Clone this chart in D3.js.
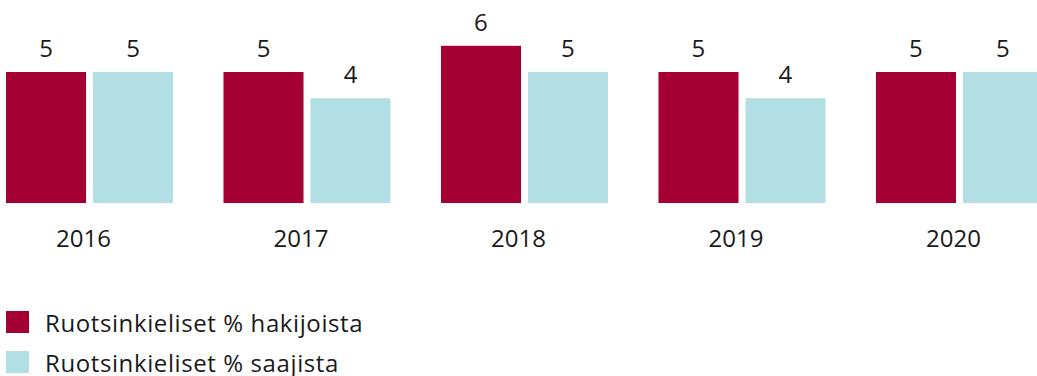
<!DOCTYPE html>
<html>
<head>
<meta charset="utf-8">
<script src="https://cdn.jsdelivr.net/npm/d3@7"></script>
<style>
  html, body { margin: 0; padding: 0; background: #fff; }
  svg { display: block; font-family: "Open Sans", sans-serif; }
</style>
</head>
<body>
<svg id="chart" width="1037" height="376"></svg>
<script>
// Share of Swedish-speaking applicants and recipients per year (%)
const years = ["2016", "2017", "2018", "2019", "2020"];
const seriesNames = ["Ruotsinkieliset % hakijoista", "Ruotsinkieliset % saajista"];
const applicants = [5, 5, 6, 5, 5];
const recipients = [5, 4, 5, 4, 5];
const colors = ["#a50034", "#b2dfe3"];

const svg = d3.select("#chart");
const baseline = 203;

const rows = years.map((y, i) => ({ year: y, values: [applicants[i], recipients[i]] }));

const x0 = d3.scaleBand().domain(years).range([6, 1043]).paddingInner(0.232).paddingOuter(0);
const x1 = d3.scaleBand().domain([0, 1]).range([0, x0.bandwidth()]).paddingInner(0.08);
const y = d3.scaleLinear().domain([0, 5]).range([baseline, 72]);

const groups = svg.selectAll("g.year")
  .data(rows)
  .join("g")
  .attr("class", "year")
  .attr("transform", d => `translate(${x0(d.year)},0)`);

const bars = groups.selectAll("g.bar")
  .data(d => d.values.map((v, k) => ({ v, k })))
  .join("g")
  .attr("class", "bar");

bars.append("rect")
  .attr("x", d => x1(d.k))
  .attr("y", d => y(d.v))
  .attr("width", x1.bandwidth())
  .attr("height", d => baseline - y(d.v))
  .attr("fill", d => colors[d.k]);

bars.append("text")
  .attr("x", d => x1(d.k) + x1.bandwidth() / 2)
  .attr("y", d => y(d.v) - 15)
  .attr("text-anchor", "middle")
  .attr("font-size", 24)
  .attr("fill", "#1a1a1a")
  .text(d => d.v);

// Year labels under each group
groups.append("text")
  .attr("x", x0.bandwidth() / 2 - 6)
  .attr("y", 247)
  .attr("text-anchor", "middle")
  .attr("font-size", 24)
  .attr("fill", "#1a1a1a")
  .text(d => d.year);

// Legend
const legend = svg.selectAll("g.legend")
  .data(seriesNames)
  .join("g")
  .attr("class", "legend")
  .attr("transform", (d, i) => `translate(6,${311 + i * 40})`);

legend.append("rect")
  .attr("width", 23)
  .attr("height", 22)
  .attr("fill", (d, i) => colors[i]);

legend.append("text")
  .attr("x", 39)
  .attr("y", 21)
  .attr("font-size", 24)
  .attr("letter-spacing", 0.6)
  .attr("fill", "#1a1a1a")
  .text(d => d);
</script>
</body>
</html>
